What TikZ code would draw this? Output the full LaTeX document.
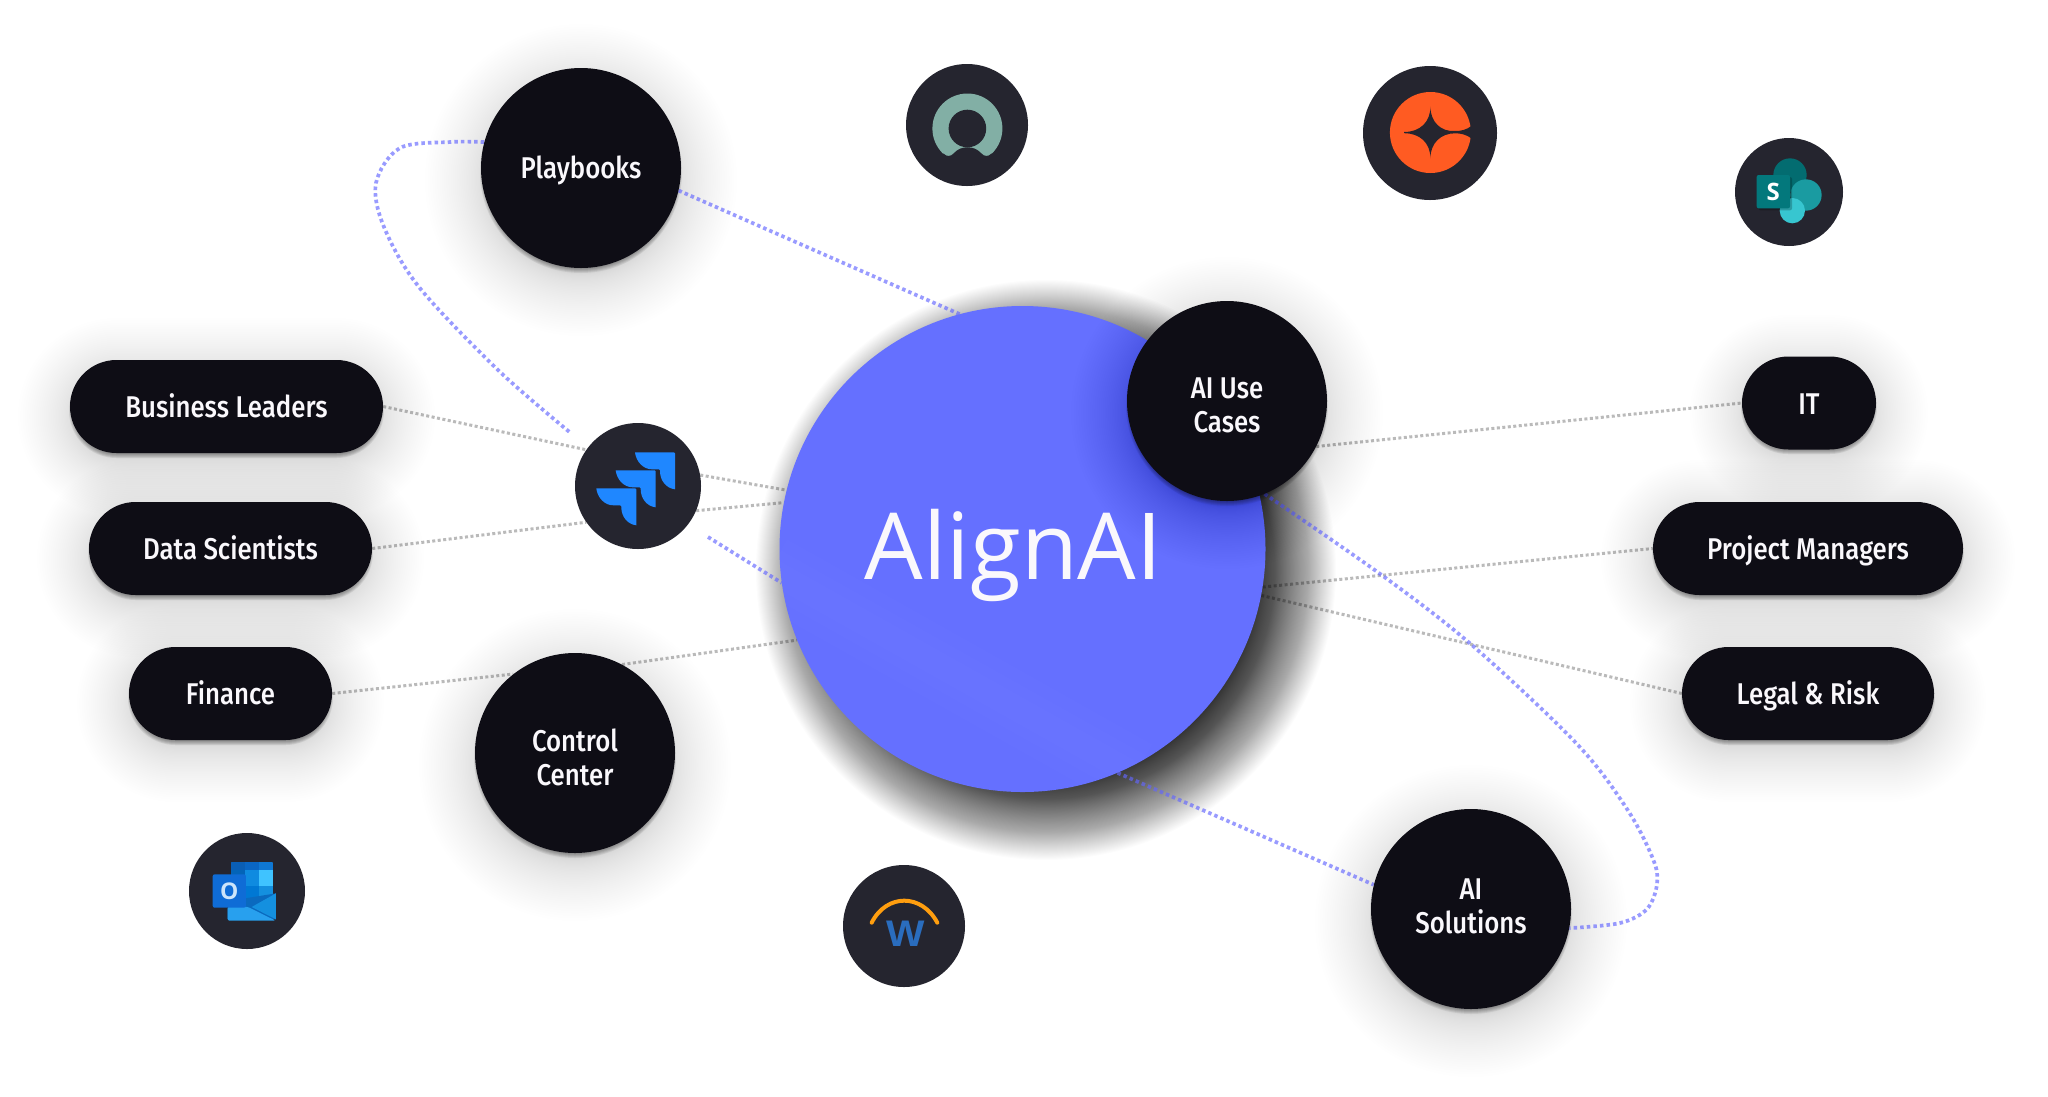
\documentclass[tikz,border=0pt]{standalone}
\usepackage{fontspec}
\usetikzlibrary{shapes.misc}
\setmainfont{Fira Sans}
\newfontfamily\labfont[FakeStretch=.86]{Fira Sans Medium}
\newfontfamily\brandfont{Open Sans}
\newfontfamily\logofont{Open Sans}
\newfontfamily\wfont[FakeStretch=1.1]{Liberation Sans}
\definecolor{nodeink}{HTML}{0E0D15}
\definecolor{iconink}{HTML}{25252F}
\definecolor{corecol}{HTML}{6570FF}
\definecolor{bluedot}{HTML}{6366FF}
\definecolor{labwhite}{HTML}{FAF8FC}
\definecolor{jirablue}{HTML}{1F87FF}
\definecolor{ringteal}{HTML}{82AFA5}
\definecolor{starorange}{HTML}{FF5B22}
\definecolor{spA}{HTML}{036C70}
\definecolor{spB}{HTML}{1A9BA1}
\definecolor{spC}{HTML}{37C6D0}
\definecolor{spD}{HTML}{03787C}
\definecolor{olA}{HTML}{0A5EB5}
\definecolor{olB}{HTML}{0A66C4}
\definecolor{olC}{HTML}{0F78D4}
\definecolor{olD}{HTML}{0364B8}
\definecolor{olE}{HTML}{0F8BE0}
\definecolor{olF}{HTML}{3FC3FF}
\definecolor{olG}{HTML}{064A8C}
\definecolor{olH}{HTML}{0078D4}
\definecolor{olI}{HTML}{1490DF}
\definecolor{olJ}{HTML}{0A6ABF}
\definecolor{olK}{HTML}{28A0EE}
\definecolor{olL}{HTML}{0F6CD6}
\definecolor{olO}{HTML}{CDE5FA}
\definecolor{wdOrange}{HTML}{FF9E0F}
\definecolor{wdBlue}{HTML}{2A6DBE}
\pgfdeclarelayer{shadowlayer}
\pgfdeclarelayer{linelayer}
\pgfsetlayers{shadowlayer,linelayer,main}
\tikzset{
  bigcirc/.style={circle,fill=nodeink,minimum size=200pt,inner sep=0pt,text=labwhite,align=center,font=\labfont\fontsize{30}{34}\selectfont,text height=40pt+#1,text depth=40pt-#1},
  pill/.style={rounded rectangle,fill=nodeink,minimum height=93pt,inner sep=0pt,text=labwhite,align=center,font=\labfont\fontsize{30}{34}\selectfont,text height=31pt,text depth=9pt},
  iconbg/.style={circle,fill=iconink,inner sep=0pt},
  bluelink/.style={draw=bluedot,opacity=.65,line width=3.7pt,dash pattern=on 3.5pt off 3.1pt},
  greylink/.style={draw=black,opacity=.27,line width=3pt,dash pattern=on 3pt off 2.5pt},
}
% soft shadows
\newcommand{\softcircle}[3]{%
  \foreach \i in {0,...,39}{%
    \pgfmathsetmacro{\gr}{62*pow(\i/39,1.6)}
    \fill[black,opacity=.0035] (#1,#2+12) circle[radius=#3-6+\gr];}
  \foreach \i in {0,...,5}{\fill[black,opacity=.08] (#1,#2+4) circle[radius=#3+1-\i];}
}
\newcommand{\softpill}[4]{%
  \foreach \i in {0,...,39}{%
    \pgfmathsetmacro{\gr}{58*pow(\i/39,1.6)-6}
    \pgfmathsetmacro{\rad}{(#4-#2)/2+\gr}
    \fill[black,opacity=.0035,rounded corners=\rad pt] (#1-\gr,#2+10-\gr) rectangle (#3+\gr,#4+10+\gr);}
  \foreach \i in {0,...,5}{%
    \pgfmathsetmacro{\gr}{1-\i}
    \pgfmathsetmacro{\rad}{(#4-#2)/2+\gr}
    \fill[black,opacity=.08,rounded corners=\rad pt] (#1-\gr,#2+4-\gr) rectangle (#3+\gr,#4+4+\gr);}
}
\newcommand{\jirapiece}[2]{%
  \fill[jirablue,shift={(#1,#2)}] (-40,0) -- (-1,0) .. controls (-.3,0) and (0,.4) .. (0,1) -- (0,37)
    .. controls (-9,36) and (-15,28) .. (-15,19) -- (-15,18) .. controls (-15,17.5) and (-15.3,17) .. (-16,17) -- (-23,17)
    .. controls (-32,17) and (-39,9) .. (-40,0) -- cycle;}
\begin{document}
\begin{tikzpicture}[x=1pt,y=-1pt]
\useasboundingbox (0,0) rectangle (2048,1096);
\begin{pgfonlayer}{shadowlayer}
  \fill[white] (0,0) rectangle (2048,1096);
\end{pgfonlayer}

% === central node ===
\node[circle,fill=corecol,minimum size=486pt,inner sep=0pt] (core) at (1022.5,549) {};
\begin{scope}
  \clip (1022.5,549) circle[radius=243];
  \foreach \w in {70,45,25}{\draw[white,opacity=.009,line width=\w pt] (770,570) -- (1135,775);}
\end{scope}

% === big round nodes ===
\softcircle{1227}{401}{100}
\node[anchor=base,text=labwhite,inner sep=0pt,font=\brandfont\fontsize{92.5}{92.5}\selectfont] (corelabel) at (1013.5,579) {AlignAI};
\node[bigcirc=31pt] (usecases) at (1227,401) {AI Use\\Cases};
\begin{pgfonlayer}{shadowlayer}
\softcircle{581}{168}{100}
\softcircle{575}{753}{100}
\softcircle{1471}{909}{100}
\softpill{70}{360}{383}{453}
\softpill{89}{502}{372}{595}
\softpill{129}{647}{332}{740}
\softpill{1742}{357}{1876}{449}
\softpill{1653}{502}{1963}{595}
\softpill{1682}{647}{1934}{740}
\end{pgfonlayer}
\node[bigcirc=10pt] (playbooks) at (581,168) {Playbooks};
\node[bigcirc=32pt] (control) at (575,753) {Control\\Center};
\node[bigcirc=24.6pt] (solutions) at (1471,909) {AI\\Solutions};

% === pills ===
\node[pill,minimum width=313pt] (business) at (226.5,406.5) {Business Leaders};
\node[pill,minimum width=283pt] (data) at (230.5,548.5) {Data Scientists};
\node[pill,minimum width=203pt] (finance) at (230.5,693.5) {Finance};
\node[pill,minimum width=134pt] (it) at (1809,403) {IT};
\node[pill,minimum width=310pt] (project) at (1808,548.5) {Project Managers};
\node[pill,minimum width=252pt] (legal) at (1808,693.5) {Legal \& Risk};

% === icon discs ===
\node[iconbg,minimum size=126pt] (jira) at (638,486) {};
\jirapiece{675}{452.3}
\jirapiece{655.7}{470.3}
\jirapiece{636.3}{488.3}

\node[iconbg,minimum size=122pt] (ringicon) at (967,125) {};
\fill[ringteal] (967.4,128.5) circle[radius=35];
\fill[iconink] (967.4,128.5) circle[radius=18.8];
\fill[iconink] (930,159) -- (943.5,153.5) .. controls (946.5,157) and (951,156.5) .. (953.5,153.5)
  .. controls (958,148.5) and (963,147.3) .. (967.4,147.3) .. controls (972,147.3) and (977,148.5) .. (981.5,153.5)
  .. controls (984,156.5) and (988.5,157) .. (991.5,153.5) -- (1005,159) -- (1005,172) -- (930,172) -- cycle;

\node[iconbg,minimum size=134pt] (staricon) at (1430,133) {};
\fill[starorange] (1430.4,132.5) circle[radius=40.5];
\fill[iconink] (1430.4,106.7) .. controls (1430.4,122) and (1441,132) .. (1455,131) .. controls (1461,131) and (1466,130) .. (1471.4,126)
  -- (1476,126) -- (1476,139) -- (1471.4,138.3) .. controls (1466,134.5) and (1461,133.3) .. (1455,133.3)
  .. controls (1441,133.3) and (1430.4,143) .. (1430.4,158.3) .. controls (1430.4,143) and (1420,133.2) .. (1404,133.2) -- (1404,132)
  .. controls (1420,132) and (1430.4,122) .. cycle;

\node[iconbg,minimum size=108pt] (shareicon) at (1789,192) {};
\begin{scope}[shift={(1700,110)},x=.3333pt,y=-.3333pt]
  \fill[spA] (270,195) circle[radius=50];
  \fill[spB] (318,255) circle[radius=47];
  \fill[spC] (277,302) circle[radius=38];
  \fill[black,opacity=.22,rounded corners=2pt] (176,201) rectangle (276,301);
  \fill[spD,rounded corners=2pt] (170,195) rectangle (270,295);
  \node[text=white,inner sep=0pt,font=\logofont\bfseries\fontsize{24}{24}\selectfont] (shareS) at (220,247) {S};
\end{scope}

\node[iconbg,minimum size=116pt] (mailicon) at (247,891) {};
\begin{scope}[shift={(160,810)},x=.3333pt,y=-.3333pt]
  \begin{scope}
    \clip[rounded corners=2pt] (212,155) rectangle (340,300);
    \fill[olA] (212,155) rectangle (255,181);
    \fill[olB] (255,155) rectangle (298,181);
    \fill[olC] (298,155) rectangle (340,181);
    \fill[olD] (212,181) rectangle (255,227);
    \fill[olE] (255,181) rectangle (298,227);
    \fill[olF] (298,181) rectangle (340,227);
    \fill[olG] (212,227) rectangle (255,300);
    \fill[olH] (255,227) rectangle (298,300);
    \fill[olI] (298,227) rectangle (340,300);
  \end{scope}
  \fill[olJ] (203,295) -- (255,265) -- (348,250) -- (348,328) -- (203,328) -- cycle;
  \fill[olI] (348,250) -- (275,291) -- (348,328) -- cycle;
  \fill[olK,rounded corners=2pt] (203,290) -- (262,290) -- (347,332) -- (203,332) -- cycle;
  \fill[olL,rounded corners=2pt] (158,193) rectangle (258,293);
  \node[text=olO,inner sep=0pt,font=\logofont\bfseries\fontsize{23}{23}\selectfont] (mailO) at (208,243) {O};
\end{scope}

\node[iconbg,minimum size=122pt] (wicon) at (904,926) {};
\begin{scope}[shift={(820,850)},x=.3333pt,y=-.3333pt]
  \draw[wdOrange,line width=4pt,line cap=round] (155,218) .. controls (200,130) and (305,130) .. (352,218);
  \node[text=wdBlue,inner sep=0pt,font=\wfont\bfseries\fontsize{37}{37}\selectfont] (wordW) at (258,250) {W};
\end{scope}

% === free ends beside the jira disc ===
\coordinate (loopend) at (569.5,432);
\coordinate (loopresume) at (708,537);

% === connectors ===
\begin{pgfonlayer}{linelayer}
  \draw[greylink] (business.east) -- (jira.145);
  \draw[greylink] (jira.10.6) -- (core.166.6);
  \draw[greylink] (data.east) -- (jira.215);
  \draw[greylink] (jira.-23.8) -- (core.169.2);
  \draw[greylink] (finance.east) -- (control.128);
  \draw[greylink] (control.62.4) -- (core.202.4);
  \draw[greylink] (usecases.-27.5) -- (it.west);
  \draw[greylink] (core.-9.3) -- (project.west);
  \draw[greylink] (core.-11.6) -- (legal.west);
  \draw[bluelink] (playbooks.-13.9) -- (core.105.4);
  \draw[bluelink] (core.-67.4) -- (solutions.166);
  \draw[bluelink] (loopresume) -- (core.188.5);
  \draw[bluelink] plot[smooth,tension=.55] coordinates {(playbooks.165) (451,142) (400,148) (376,183) (384,227) (419,287) (498,370) (loopend)};
  \draw[bluelink] plot[smooth,tension=.55] coordinates {(usecases.-68.8) (1383,576) (1473,646) (1577,744) (1627,809) (1653,859) (1657,884) (1647,909) (1620,923) (solutions.-11)};
\end{pgfonlayer}

% === core shadow ===
\begin{pgfonlayer}{shadowlayer}
  \foreach \i in {0,...,129}{
    \pgfmathsetmacro{\rr}{205+85*pow(\i/129,1.6)}
    \fill[black,opacity=.0105] (1046,570) circle[radius=\rr];
  }
\end{pgfonlayer}
\end{tikzpicture}
\end{document}
